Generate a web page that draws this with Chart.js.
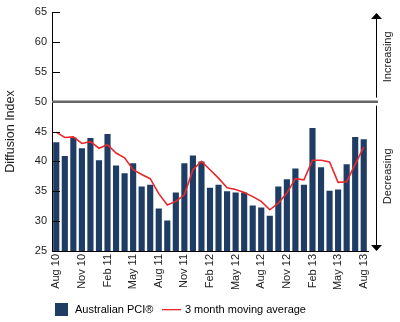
<!DOCTYPE html>
<html>
<head>
<meta charset="utf-8">
<script src="https://cdn.jsdelivr.net/npm/chart.js@4.4.1/dist/chart.umd.min.js"></script>
<style>
  html, body { margin: 0; padding: 0; background: #fff; }
  #wrap { width: 400px; height: 322px; }
</style>
</head>
<body>
<div id="wrap"><canvas id="pci"></canvas></div>
<script>
// months, Aug 2010 .. Aug 2013
const months = [
  "Aug 10", "Sep 10", "Oct 10", "Nov 10", "Dec 10", "Jan 11", "Feb 11", "Mar 11",
  "Apr 11", "May 11", "Jun 11", "Jul 11", "Aug 11", "Sep 11", "Oct 11", "Nov 11",
  "Dec 11", "Jan 12", "Feb 12", "Mar 12", "Apr 12", "May 12", "Jun 12", "Jul 12",
  "Aug 12", "Sep 12", "Oct 12", "Nov 12", "Dec 12", "Jan 13", "Feb 13", "Mar 13",
  "Apr 13", "May 13", "Jun 13", "Jul 13", "Aug 13"
];
const pci = [
  43.2, 40.9, 44.0, 42.2, 43.9, 40.2, 44.6, 39.3, 38.0, 39.7, 35.8, 36.1, 32.1,
  30.1, 34.8, 39.7, 41.0, 40.0, 35.6, 36.1, 35.0, 34.8, 34.8, 32.6, 32.3, 30.9,
  35.8, 37.0, 38.8, 36.1, 45.6, 39.0, 35.1, 35.3, 39.5, 44.1, 43.7
];
const movingAvg = [
  44.9, 44.0, 44.1, 43.0, 43.3, 42.2, 42.8, 41.4, 40.6, 38.6, 37.8, 37.1, 34.6,
  32.7, 33.3, 34.4, 38.6, 40.0, 38.6, 37.2, 35.6, 35.3, 34.8, 34.1, 33.3, 31.9,
  33.0, 34.7, 37.1, 36.9, 40.2, 40.2, 39.9, 36.5, 36.6, 39.5, 42.4
];
const yTicks = [25, 30, 35, 40, 45, 50, 55, 60, 65];
const divider = 50;

const FONT = "'Liberation Sans', Arial, sans-serif";
const NAVY = "#1f3d64";
const RED = "#e8282c";

// legend swatches
function swatch(w, h, draw) {
  const c = document.createElement("canvas");
  c.width = w;
  c.height = h;
  draw(c.getContext("2d"));
  return c;
}
const boxIcon = swatch(13, 13, (g) => { g.fillStyle = NAVY; g.fillRect(0, 0, 13, 13); });
const lineIcon = swatch(19, 3, (g) => { g.fillStyle = RED; g.fillRect(0, 1, 19, 1.3); });

const extras = {
  id: "extras",
  afterLayout(chart) {
    // line the legend up under the plot
    chart.legend.left = chart.chartArea.left - 8.5;
    chart.legend.top += 3;
  },
  afterDatasetsDraw(chart) {
    const { ctx, chartArea: a, scales: { y } } = chart;
    ctx.save();
    // inward tick marks on the y axis
    ctx.strokeStyle = "#000";
    ctx.lineWidth = 1;
    yTicks.forEach((v) => {
      const py = Math.round(y.getPixelForValue(v)) + 0.5;
      ctx.beginPath();
      ctx.moveTo(a.left, py);
      ctx.lineTo(a.left + 8, py);
      ctx.stroke();
    });
    // 50 divider
    const y50 = y.getPixelForValue(divider);
    ctx.strokeStyle = "#666";
    ctx.lineWidth = 2.5;
    ctx.beginPath();
    ctx.moveTo(a.left, y50);
    ctx.lineTo(a.right + 10, y50);
    ctx.stroke();
    // increasing / decreasing arrows
    const ax = a.right + 8.5;
    ctx.strokeStyle = "#000";
    ctx.fillStyle = "#000";
    ctx.lineWidth = 1;
    ctx.beginPath();
    ctx.moveTo(ax, a.top + 6);
    ctx.lineTo(ax, y50 - 4);
    ctx.moveTo(ax, y50 + 4);
    ctx.lineTo(ax, a.bottom - 5);
    ctx.stroke();
    ctx.beginPath();
    ctx.moveTo(ax, a.top + 1);
    ctx.lineTo(ax - 5.5, a.top + 7);
    ctx.lineTo(ax + 5.5, a.top + 7);
    ctx.closePath();
    ctx.fill();
    ctx.beginPath();
    ctx.moveTo(ax, a.bottom);
    ctx.lineTo(ax - 5.5, a.bottom - 6);
    ctx.lineTo(ax + 5.5, a.bottom - 6);
    ctx.closePath();
    ctx.fill();
    ctx.font = "11px " + FONT;
    ctx.textAlign = "center";
    ctx.textBaseline = "middle";
    ctx.fillStyle = "#222";
    [["Increasing", (a.top + y50) / 2], ["Decreasing", (y50 + a.bottom) / 2]].forEach(([t, cy]) => {
      ctx.save();
      ctx.translate(ax + 11, cy);
      ctx.rotate(-Math.PI / 2);
      ctx.fillText(t, 0, 0);
      ctx.restore();
    });
    ctx.restore();
  },
};

new Chart(document.getElementById("pci"), {
  type: "bar",
  data: {
    labels: months,
    datasets: [
      {
        type: "line",
        label: "3 month moving average",
        data: movingAvg,
        borderColor: RED,
        backgroundColor: RED,
        borderWidth: 1.6,
        pointRadius: 0,
        tension: 0,
        order: 0,
      },
      {
        label: "Australian PCI\u00ae",
        data: pci,
        backgroundColor: NAVY,
        barPercentage: 0.72,
        categoryPercentage: 1,
        order: 1,
      },
    ],
  },
  options: {
    responsive: true,
    maintainAspectRatio: false,
    animation: false,
    layout: { padding: { top: 12, right: 32, left: 2, bottom: 0 } },
    plugins: {
      tooltip: { enabled: false },
      legend: {
        position: "bottom",
        align: "start",
        reverse: true,
        labels: {
          color: "#222",
          font: { family: FONT, size: 11 },
          usePointStyle: true,
          pointStyleWidth: 16,
          padding: 10,
          generateLabels(chart) {
            return chart.data.datasets.map((ds, i) => ({
              text: ds.label,
              fillStyle: ds.type === "line" ? RED : NAVY,
              strokeStyle: ds.type === "line" ? RED : NAVY,
              lineWidth: 0,
              pointStyle: ds.type === "line" ? lineIcon : boxIcon,
              datasetIndex: i,
              hidden: false,
            }));
          },
        },
      },
    },
    scales: {
      x: {
        grid: { display: false, drawTicks: false },
        border: { display: true, color: "#000", width: 1 },
        afterFit: (s) => { s.height = 40; },
        ticks: {
          autoSkip: false,
          minRotation: 90,
          maxRotation: 90,
          padding: 3,
          color: "#222",
          font: { family: FONT, size: 11 },
          callback: (v, i) => (i % 3 === 0 ? months[i] : ""),
        },
      },
      y: {
        min: 25,
        max: 65,
        grid: { display: false, drawTicks: false },
        border: { display: true, color: "#000", width: 1 },
        afterFit: (s) => { s.width = 50; },
        afterBuildTicks: (scale) => {
          scale.ticks = yTicks.map((v) => ({ value: v }));
        },
        ticks: {
          padding: 5,
          color: "#222",
          font: { family: FONT, size: 11 },
        },
        title: {
          display: true,
          text: "Diffusion Index",
          color: "#222",
          font: { family: FONT, size: 12.5 },
          padding: { top: 1.5, bottom: 2 },
        },
      },
    },
  },
  plugins: [extras],
});
</script>
</body>
</html>
